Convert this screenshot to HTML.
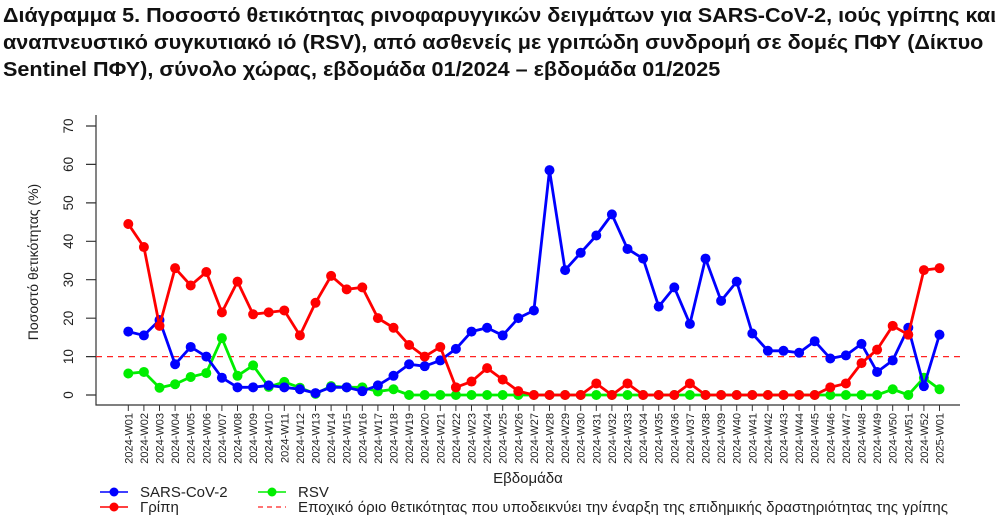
<!DOCTYPE html>
<html><head><meta charset="utf-8"><style>
body{margin:0;background:#fff;width:1005px;height:523px;overflow:hidden}
.t{position:absolute;left:3px;top:3px;font:bold 20px "Liberation Sans",sans-serif;line-height:27px;color:#111;width:920px;transform:scaleX(1.08);transform-origin:0 0;white-space:nowrap}
svg{position:absolute;left:0;top:0}
text{font-family:"Liberation Sans",sans-serif;fill:#222}
</style></head><body>
<div class="t">Διάγραμμα 5. Ποσοστό θετικότητας ρινοφαρυγγικών δειγμάτων για SARS-CoV-2, ιούς γρίπης και<br>αναπνευστικό συγκυτιακό ιό (RSV), από ασθενείς με γριπώδη συνδρομή σε δομές ΠΦΥ (Δίκτυο<br>Sentinel ΠΦΥ), σύνολο χώρας, εβδομάδα 01/2024 – εβδομάδα 01/2025</div>
<svg id="s" width="1005" height="523">
<g stroke="#333" stroke-width="1.2" fill="none">
<path d="M96 115V405H960"/>
<path d="M86 395H96M86 356.6H96M86 318.2H96M86 279.7H96M86 241.3H96M86 202.9H96M86 164.4H96M86 126H96"/>
</g>
<g font-size="13.5" text-anchor="middle">
<text transform="translate(73,395) rotate(-90)">0</text>
<text transform="translate(73,356.6) rotate(-90)">10</text>
<text transform="translate(73,318.2) rotate(-90)">20</text>
<text transform="translate(73,279.7) rotate(-90)">30</text>
<text transform="translate(73,241.3) rotate(-90)">40</text>
<text transform="translate(73,202.9) rotate(-90)">50</text>
<text transform="translate(73,164.4) rotate(-90)">60</text>
<text transform="translate(73,126) rotate(-90)">70</text>
<text transform="translate(38,262) rotate(-90)" font-size="14">Ποσοστό θετικότητας (%)</text>
</g>
<line x1="96" y1="356.6" x2="960" y2="356.6" stroke="#f22" stroke-width="1.2" stroke-dasharray="6,5"/>
<g id="ticks" stroke="#333" stroke-width="1"></g>
<g id="lab" font-size="11" text-anchor="end">
<text transform="translate(132.3,413) rotate(-90)">2024-W01</text><text transform="translate(147.9,413) rotate(-90)">2024-W02</text><text transform="translate(163.5,413) rotate(-90)">2024-W03</text><text transform="translate(179.1,413) rotate(-90)">2024-W04</text><text transform="translate(194.7,413) rotate(-90)">2024-W05</text><text transform="translate(210.3,413) rotate(-90)">2024-W06</text><text transform="translate(225.9,413) rotate(-90)">2024-W07</text><text transform="translate(241.5,413) rotate(-90)">2024-W08</text><text transform="translate(257.1,413) rotate(-90)">2024-W09</text><text transform="translate(272.7,413) rotate(-90)">2024-W10</text><text transform="translate(288.3,413) rotate(-90)">2024-W11</text><text transform="translate(303.9,413) rotate(-90)">2024-W12</text><text transform="translate(319.5,413) rotate(-90)">2024-W13</text><text transform="translate(335.1,413) rotate(-90)">2024-W14</text><text transform="translate(350.7,413) rotate(-90)">2024-W15</text><text transform="translate(366.3,413) rotate(-90)">2024-W16</text><text transform="translate(381.9,413) rotate(-90)">2024-W17</text><text transform="translate(397.5,413) rotate(-90)">2024-W18</text><text transform="translate(413.1,413) rotate(-90)">2024-W19</text><text transform="translate(428.7,413) rotate(-90)">2024-W20</text><text transform="translate(444.3,413) rotate(-90)">2024-W21</text><text transform="translate(459.9,413) rotate(-90)">2024-W22</text><text transform="translate(475.5,413) rotate(-90)">2024-W23</text><text transform="translate(491.1,413) rotate(-90)">2024-W24</text><text transform="translate(506.7,413) rotate(-90)">2024-W25</text><text transform="translate(522.3,413) rotate(-90)">2024-W26</text><text transform="translate(537.9,413) rotate(-90)">2024-W27</text><text transform="translate(553.5,413) rotate(-90)">2024-W28</text><text transform="translate(569.1,413) rotate(-90)">2024-W29</text><text transform="translate(584.7,413) rotate(-90)">2024-W30</text><text transform="translate(600.3,413) rotate(-90)">2024-W31</text><text transform="translate(615.9,413) rotate(-90)">2024-W32</text><text transform="translate(631.5,413) rotate(-90)">2024-W33</text><text transform="translate(647.1,413) rotate(-90)">2024-W34</text><text transform="translate(662.7,413) rotate(-90)">2024-W35</text><text transform="translate(678.3,413) rotate(-90)">2024-W36</text><text transform="translate(693.9,413) rotate(-90)">2024-W37</text><text transform="translate(709.5,413) rotate(-90)">2024-W38</text><text transform="translate(725.1,413) rotate(-90)">2024-W39</text><text transform="translate(740.7,413) rotate(-90)">2024-W40</text><text transform="translate(756.3,413) rotate(-90)">2024-W41</text><text transform="translate(771.9,413) rotate(-90)">2024-W42</text><text transform="translate(787.5,413) rotate(-90)">2024-W43</text><text transform="translate(803.1,413) rotate(-90)">2024-W44</text><text transform="translate(818.7,413) rotate(-90)">2024-W45</text><text transform="translate(834.3,413) rotate(-90)">2024-W46</text><text transform="translate(849.9,413) rotate(-90)">2024-W47</text><text transform="translate(865.5,413) rotate(-90)">2024-W48</text><text transform="translate(881.1,413) rotate(-90)">2024-W49</text><text transform="translate(896.7,413) rotate(-90)">2024-W50</text><text transform="translate(912.3,413) rotate(-90)">2024-W51</text><text transform="translate(927.9,413) rotate(-90)">2024-W52</text><text transform="translate(943.5,413) rotate(-90)">2025-W01</text>
</g>
<text x="528" y="483" font-size="15" text-anchor="middle">Εβδομάδα</text>
<g font-size="15">
<line x1="100" y1="492" x2="128" y2="492" stroke="#00f" stroke-width="1.5"/><circle cx="114" cy="492" r="4.5" fill="#00f"/>
<text x="140" y="497">SARS-CoV-2</text>
<line x1="100" y1="507" x2="128" y2="507" stroke="#f00" stroke-width="1.5"/><circle cx="114" cy="507" r="4.5" fill="#f00"/>
<text x="140" y="512">Γρίπη</text>
<line x1="258" y1="492" x2="286" y2="492" stroke="#0e0" stroke-width="1.5"/><circle cx="272" cy="492" r="4.5" fill="#0e0"/>
<text x="298" y="497">RSV</text>
<line x1="258" y1="507" x2="286" y2="507" stroke="#f22" stroke-width="1.2" stroke-dasharray="5,4"/>
<text x="298" y="512" font-size="15" textLength="650">Εποχικό όριο θετικότητας που υποδεικνύει την έναρξη της επιδημικής δραστηριότητας της γρίπης</text>
</g>
<g id="series"></g>
</svg>
<script>
var X=i=>128.3+i*15.6, Y=v=>395-v*3.843;
var sars=[16.5,15.5,19.5,8,12.5,10,4.5,2,2,2.5,2,1.5,0.5,2,2,1,2.5,5,8,7.5,9,12,16.5,17.5,15.5,20,22,58.5,32.5,37,41.5,47,38,35.5,23,28,18.5,35.5,24.5,29.5,16,11.5,11.5,11,14,9.5,10.3,13.3,6,9,17.5,2.3,15.7];
var flu=[44.5,38.5,18,33,28.5,32,21.5,29.5,21,21.5,22,15.5,24,31,27.5,28,20,17.5,13,10,12.5,2,3.5,7,4,1,0,0,0,0,3,0,3,0,0,0,3,0,0,0,0,0,0,0,0,2,3,8.3,11.8,18,15.7,32.5,33];
var rsv=[5.6,6,1.9,2.8,4.7,5.7,14.8,5,7.7,2.1,3.4,1.9,0.3,2.3,2,2,0.9,1.5,0,0,0,0,0,0,0,0,0,0,0,0,0,0,0,0,0,0,0,0,0,0,0,0,0,0,0,0,0,0,0,1.5,0,4.5,1.5];
var ns="http://www.w3.org/2000/svg",g=document.getElementById('series'),tk=document.getElementById('ticks');
for(var i=0;i<53;i++){var l=document.createElementNS(ns,'line');l.setAttribute('x1',X(i));l.setAttribute('x2',X(i));l.setAttribute('y1',405);l.setAttribute('y2',411);tk.appendChild(l);}
[[rsv,'#0e0'],[sars,'#00f'],[flu,'#f00']].forEach(function(s){
 var p=document.createElementNS(ns,'polyline');p.setAttribute('points',s[0].map((v,i)=>X(i)+','+Y(v)).join(' '));
 p.setAttribute('fill','none');p.setAttribute('stroke',s[1]);p.setAttribute('stroke-width','2.8');p.setAttribute('stroke-linejoin','round');g.appendChild(p);
 s[0].forEach(function(v,i){var c=document.createElementNS(ns,'circle');c.setAttribute('cx',X(i));c.setAttribute('cy',Y(v));c.setAttribute('r',5);c.setAttribute('fill',s[1]);g.appendChild(c);});
});
</script>
</body></html>
